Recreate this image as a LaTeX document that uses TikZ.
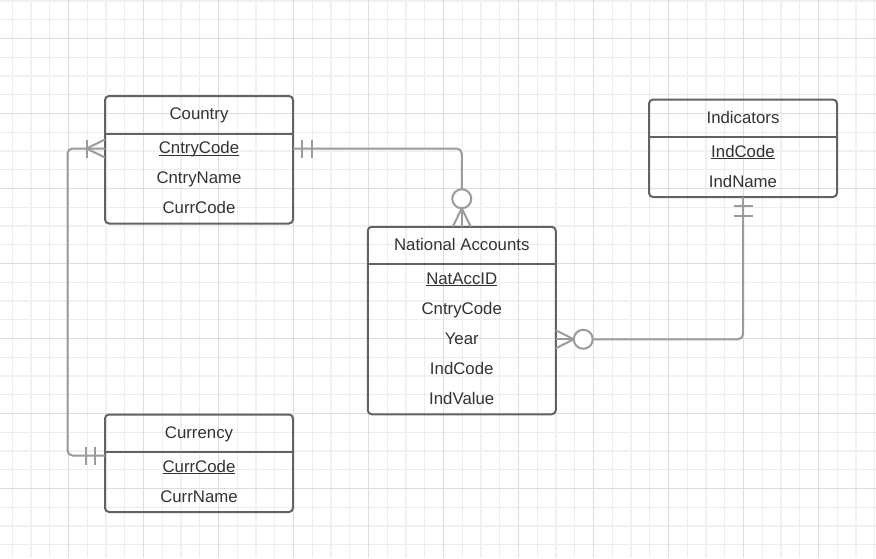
\documentclass[tikz,border=0pt]{standalone}
\usepackage{fontspec}
\setmainfont{Liberation Sans}
\usetikzlibrary{positioning,fit,calc}
\definecolor{gthinc}{HTML}{EDEDED}
\definecolor{gthickc}{HTML}{F1F1F1}
\definecolor{gdarkc}{HTML}{DDDDDD}
\definecolor{boxc}{HTML}{626262}
\definecolor{txtc}{HTML}{333333}
\definecolor{connc}{HTML}{9B9B9B}
\newcommand\keyul[1]{\setbox0\hbox{#1}\rlap{\rule[-2.2pt]{\wd0}{1.2pt}}\box0}
\begin{document}
\begin{tikzpicture}[x=1pt,y=-1pt,
  gthin/.style={draw=gthinc,line width=1pt},
  gthick/.style={draw=gthickc,line width=2.4pt},
  gdark/.style={draw=gdarkc,line width=1pt},
  hdr/.style={minimum width=188pt,minimum height=37.5pt,inner sep=0pt,outer sep=0pt,text height=12pt,text depth=2pt,text=txtc,font=\fontsize{16.8}{20}\selectfont},
  fieldrow/.style={minimum width=188pt,minimum height=30pt,inner sep=0pt,outer sep=0pt,text height=12pt,text depth=2pt,text=txtc,font=\fontsize{16.8}{20}\selectfont},
  entity/.style={draw=boxc,line width=2pt,rounded corners=4pt,inner sep=0pt,outer sep=0pt},
  divider/.style={draw=boxc,line width=2pt},
  conn/.style={draw=connc,line width=2pt,rounded corners=5pt},
  notation/.style={draw=connc,line width=2pt},
  circ/.style={circle,draw=connc,line width=2pt,fill=white,minimum size=19pt,inner sep=0pt,outer sep=0pt},
  node distance=0pt]
\useasboundingbox (0,0) rectangle (876,558);
\fill[white] (0,0) rectangle (876,558);
% grid
\foreach \i in {0,...,46} \draw[gthin] (12.25+18.75*\i,0) -- (12.25+18.75*\i,558);
\foreach \i in {0,...,29} \draw[gthin] (0,0.75+18.75*\i) -- (876,0.75+18.75*\i);
\foreach \i in {0,...,11} \draw[gthick] (31+75*\i,0) -- (31+75*\i,558);
\foreach \i in {0,...,7} \draw[gthick] (0,0.75+75*\i) -- (876,0.75+75*\i);
\foreach \i in {0,...,10} \draw[gdark] (68.5+75*\i,0) -- (68.5+75*\i,558);
\foreach \i in {0,...,6} \draw[gdark] (0,38.25+75*\i) -- (876,38.25+75*\i);

% Country
\node[hdr] (countryH) at (199,114.75) {Country};
\node[fieldrow,below=of countryH] (country1) {\keyul{CntryCode}};
\node[fieldrow,below=of country1] (country2) {CntryName};
\node[fieldrow,below=of country2] (country3) {CurrCode};
\node[entity,fit=(countryH)(country3)] (country) {};
\draw[divider] (countryH.south west) -- (countryH.south east);

% Indicators
\node[hdr] (indH) at (743,118.25) {Indicators};
\node[fieldrow,below=of indH] (ind1) {\keyul{IndCode}};
\node[fieldrow,below=of ind1] (ind2) {IndName};
\node[entity,fit=(indH)(ind2)] (ind) {};
\draw[divider] (indH.south west) -- (indH.south east);

% National Accounts
\node[hdr] (natH) at (461.75,245.5) {National Accounts};
\node[fieldrow,below=of natH] (nat1) {\keyul{NatAccID}};
\node[fieldrow,below=of nat1] (nat2) {CntryCode};
\node[fieldrow,below=of nat2] (nat3) {Year};
\node[fieldrow,below=of nat3] (nat4) {IndCode};
\node[fieldrow,below=of nat4] (nat5) {IndValue};
\node[entity,fit=(natH)(nat5)] (nat) {};
\draw[divider] (natH.south west) -- (natH.south east);

% Currency
\node[hdr] (curH) at (199,433.25) {Currency};
\node[fieldrow,below=of curH] (cur1) {\keyul{CurrCode}};
\node[fieldrow,below=of cur1] (cur2) {CurrName};
\node[entity,fit=(curH)(cur2)] (cur) {};
\draw[divider] (curH.south west) -- (curH.south east);

% Country -- National Accounts (one and only one -- zero or many)
\node[circ] (o1) at ($(nat.north)+(0,-28)$) {};
\draw[conn] (country1.east) -| (o1.north);
\draw[notation] (o1.south) -- (nat.north);
\draw[notation] (o1.south) -- ($(nat.north)+(-9,0)$);
\draw[notation] (o1.south) -- ($(nat.north)+(9,0)$);
\draw[notation] ($(country1.east)+(9,-9)$) -- ++(0,18);
\draw[notation] ($(country1.east)+(18.5,-9)$) -- ++(0,18);

% Currency -- Country (one and only one -- one or many)
\coordinate (curlink) at ($(curH.south west)+(0,3.5)$);
\draw[conn] (curlink) -- ++(-37.5,0) |- (country1.west);
\draw[notation] ($(curlink)+(-10,-9)$) -- ++(0,18);
\draw[notation] ($(curlink)+(-19.5,-9)$) -- ++(0,18);
\draw[notation] ($(country1.west)+(-18.5,-9)$) -- ++(0,18);
\draw[notation] ($(country1.west)+(-18.5,0)$) -- ($(country1.west)+(0,-9)$);
\draw[notation] ($(country1.west)+(-18.5,0)$) -- ($(country1.west)+(0,9)$);

% National Accounts -- Indicators (zero or many -- one and only one)
\node[circ] (o2) at ($(nat3.east)+(27.5,0)$) {};
\draw[conn] (o2.east) -| (ind.south);
\draw[notation] (o2.west) -- (nat3.east);
\draw[notation] (o2.west) -- ($(nat3.east)+(0,-9)$);
\draw[notation] (o2.west) -- ($(nat3.east)+(0,9)$);
\draw[notation] ($(ind.south)+(-9.5,9)$) -- ++(19,0);
\draw[notation] ($(ind.south)+(-9.5,18.5)$) -- ++(19,0);
\end{tikzpicture}
\end{document}
